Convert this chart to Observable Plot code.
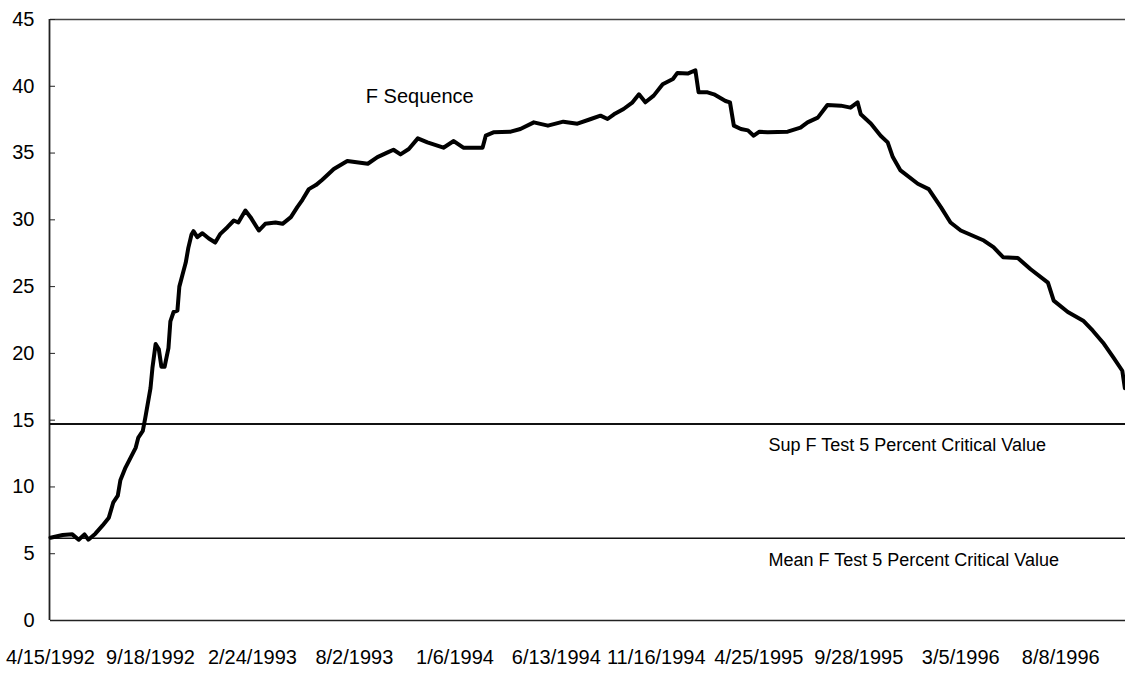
<!DOCTYPE html>
<html><head><meta charset="utf-8">
<script src="https://cdn.jsdelivr.net/npm/d3@7"></script>
<script src="https://cdn.jsdelivr.net/npm/@observablehq/plot@0.6"></script>
<style>body{margin:0;background:#fff} svg{display:block}</style>
</head><body><div id="chart"></div>
<script>
const dates = [
"1992-04-15","1992-05-04","1992-05-19","1992-05-29","1992-06-07","1992-06-13","1992-06-24","1992-07-05","1992-07-15","1992-07-22",
"1992-07-29","1992-08-02","1992-08-10","1992-08-18","1992-08-26","1992-08-30","1992-09-06","1992-09-10","1992-09-18","1992-09-21",
"1992-09-26","1992-10-01","1992-10-05","1992-10-10","1992-10-16","1992-10-19","1992-10-24","1992-10-30","1992-11-02","1992-11-07",
"1992-11-12","1992-11-16","1992-11-21","1992-11-24","1992-11-30","1992-12-08","1992-12-18","1992-12-28","1993-01-05","1993-01-16",
"1993-01-26","1993-02-02","1993-02-13","1993-02-21","1993-03-06","1993-03-16","1993-04-01","1993-04-12","1993-04-25","1993-05-05",
"1993-05-13","1993-05-23","1993-06-03","1993-06-13","1993-07-01","1993-07-22","1993-08-23","1993-09-07","1993-09-23","1993-10-02",
"1993-10-13","1993-10-26","1993-11-09","1993-11-24","1993-12-19","1994-01-04","1994-01-19","1994-02-18","1994-02-23","1994-03-07",
"1994-04-03","1994-04-18","1994-05-09","1994-05-31","1994-06-24","1994-07-16","1994-08-06","1994-08-21","1994-09-01","1994-09-11",
"1994-09-26","1994-10-10","1994-10-20","1994-10-30","1994-11-12","1994-11-26","1994-12-12","1994-12-19","1995-01-04","1995-01-16",
"1995-01-21","1995-02-04","1995-02-14","1995-03-04","1995-03-11","1995-03-17","1995-03-28","1995-04-08","1995-04-17","1995-04-26",
"1995-05-09","1995-06-09","1995-06-29","1995-07-10","1995-07-26","1995-08-10","1995-08-31","1995-09-15","1995-09-26","1995-10-01",
"1995-10-17","1995-11-01","1995-11-12","1995-11-20","1995-12-02","1995-12-29","1996-01-15","1996-02-03","1996-02-18","1996-03-05",
"1996-04-10","1996-04-25","1996-05-10","1996-06-02","1996-06-22","1996-07-19","1996-07-28","1996-08-19","1996-09-12","1996-09-27",
"1996-10-13","1996-10-29","1996-11-12","1996-11-16"
];
const fValues = [
6.2,6.4,6.45,6.05,6.45,6.05,6.5,7.1,7.7,8.85,
9.35,10.5,11.45,12.2,12.95,13.7,14.2,15.2,17.4,18.9,
20.7,20.3,19.0,19.0,20.4,22.4,23.1,23.2,25.0,25.9,
26.8,27.9,28.9,29.15,28.7,29.0,28.6,28.3,28.95,29.45,
29.95,29.8,30.7,30.2,29.2,29.7,29.8,29.7,30.2,30.95,
31.5,32.3,32.6,33.0,33.8,34.4,34.2,34.7,35.05,35.25,
34.9,35.3,36.1,35.8,35.4,35.9,35.4,35.4,36.3,36.55,
36.6,36.8,37.3,37.05,37.35,37.2,37.55,37.8,37.55,37.9,
38.3,38.8,39.4,38.8,39.3,40.15,40.55,41.0,40.95,41.2,
39.55,39.55,39.4,38.9,38.8,37.05,36.8,36.7,36.3,36.6,
36.55,36.6,36.9,37.3,37.65,38.6,38.55,38.4,38.8,37.9,
37.2,36.3,35.8,34.7,33.7,32.7,32.3,30.95,29.8,29.2,
28.45,27.95,27.2,27.15,26.3,25.3,23.95,23.1,22.45,21.7,
20.8,19.7,18.7,17.4
];
const critValues = [14.72, 6.16];
const critLabels = ["Sup F Test 5 Percent Critical Value", "Mean F Test 5 Percent Critical Value"];
const critLabelDates = ["1995-05-10", "1995-05-10"];
const critLabelY = [13.1, 4.49];
const seriesLabel = ["F Sequence"];
const seriesLabelDate = ["1993-11-12"];
const seriesLabelY = [39.2];
const xTickDates = ["1992-04-15","1992-09-18","1993-02-24","1993-08-02","1994-01-06","1994-06-13","1994-11-16","1995-04-25","1995-09-28","1996-03-05","1996-08-08"];
const xTickLabels = ["4/15/1992","9/18/1992","2/24/1993","8/2/1993","1/6/1994","6/13/1994","11/16/1994","4/25/1995","9/28/1995","3/5/1996","8/8/1996"];
const yTicks = [0,5,10,15,20,25,30,35,40,45];
const xStart = "1992-04-15", xEnd = "1996-11-17";

const series = dates.map((d, i) => ({date: new Date(d), f: fValues[i]}));
const labelMap = new Map(xTickDates.map((d, i) => [+new Date(d), xTickLabels[i]]));

const chart = Plot.plot({
  width: 1125, height: 675,
  marginLeft: 50, marginRight: 0, marginTop: 19, marginBottom: 55,
  style: {fontFamily: "'Liberation Sans', Arial, sans-serif", background: "#fff", color: "#000", overflow: "visible"},
  x: {type: "utc", domain: [new Date(xStart), new Date(xEnd)]},
  y: {domain: [0, 45]},
  marks: [
    Plot.ruleY([45], {stroke: "#444", strokeWidth: 1.3}),
    Plot.ruleY([0], {stroke: "#222", strokeWidth: 1.6}),
    Plot.ruleX([new Date(xStart)], {stroke: "#222", strokeWidth: 1.8, dx: -1}),
    Plot.ruleY([critValues[0]], {stroke: "#111", strokeWidth: 2}),
    Plot.ruleY([critValues[1]], {stroke: "#111", strokeWidth: 1.4}),
    Plot.axisY({ticks: yTicks, tickSize: -5, tickPadding: 21, tickFormat: d => String(d), fontSize: 20, label: null, stroke: "#222"}),
    Plot.axisX({ticks: xTickDates.map(d => new Date(d)), tickSize: 0, tickPadding: 29, tickFormat: d => labelMap.get(+d), fontSize: 20, fontFamily: "'Liberation Sans Narrow', 'Arial Narrow', sans-serif", label: null}),
    Plot.line(series, {x: "date", y: "f", stroke: "#000", strokeWidth: 4, strokeLinejoin: "round", strokeLinecap: "round"}),
    Plot.text(critLabels, {x: (d, i) => new Date(critLabelDates[i]), y: (d, i) => critLabelY[i], text: d => d, textAnchor: "start", lineAnchor: "middle", fontSize: 18, fill: "#000"}),
    Plot.text(seriesLabel, {x: (d, i) => new Date(seriesLabelDate[i]), y: (d, i) => seriesLabelY[i], text: d => d, textAnchor: "middle", lineAnchor: "middle", fontSize: 20, fill: "#000"})
  ]
});
document.getElementById("chart").appendChild(chart);
</script>
</body></html>
